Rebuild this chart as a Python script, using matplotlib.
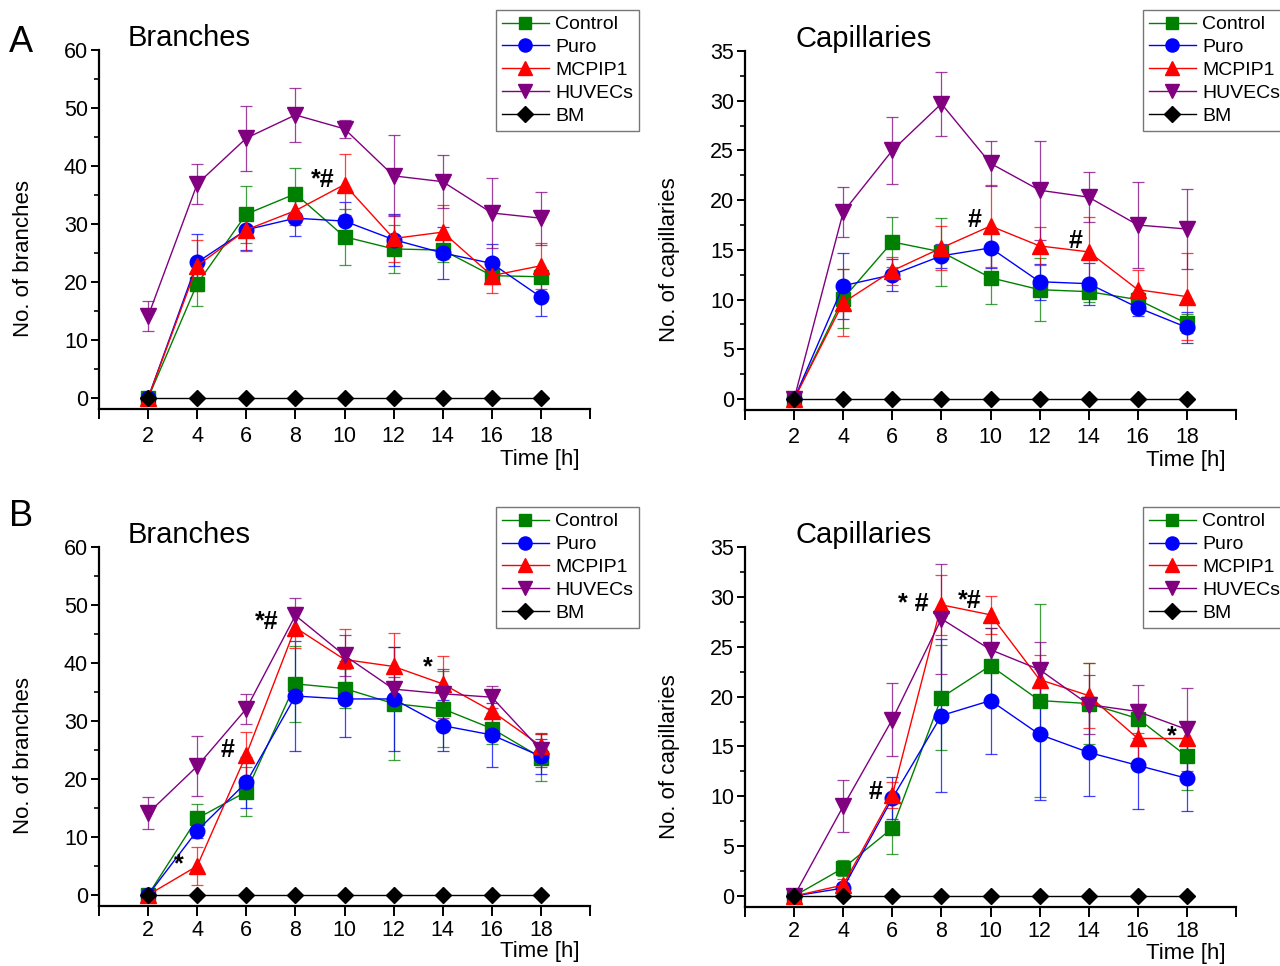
import matplotlib
matplotlib.use("Agg")
import matplotlib.pyplot as plt
import numpy as np

plt.rcParams['font.family'] = ['Liberation Sans', 'DejaVu Sans']

time_h = [2, 4, 6, 8, 10, 12, 14, 16, 18]
series_names = ["Control", "Puro", "MCPIP1", "HUVECs", "BM"]
bm = [0, 0, 0, 0, 0, 0, 0, 0, 0]

# Panel A - Branches
a_br_ctrl = [0, 19.7, 31.7, 35.2, 27.8, 25.7, 25.5, 21.1, 20.9]
a_br_ctrl_err = [0, 3.8, 4.9, 4.4, 4.8, 4.1, 2.0, 1.5, 1.0]
a_br_puro = [0, 23.4, 29.0, 31.0, 30.5, 27.3, 25.0, 23.2, 17.4]
a_br_puro_err = [0, 4.8, 3.5, 3.1, 3.3, 4.5, 4.5, 3.4, 3.2]
a_br_mcp = [0, 22.8, 29.0, 32.3, 36.8, 27.5, 28.6, 21.1, 22.8]
a_br_mcp_err = [0, 4.4, 3.7, 2.5, 5.2, 4.1, 4.7, 3.0, 4.0]
a_br_huv = [14.1, 36.9, 44.8, 48.8, 46.4, 38.3, 37.3, 31.9, 31.0]
a_br_huv_err = [2.6, 3.4, 5.6, 4.7, 1.6, 7.0, 4.6, 6.1, 4.6]

# Panel A - Capillaries
a_cap_ctrl = [0, 10.1, 15.8, 14.8, 12.2, 11.0, 10.8, 10.0, 7.6]
a_cap_ctrl_err = [0, 3.0, 2.5, 3.4, 2.6, 3.2, 1.0, 0.8, 1.0]
a_cap_puro = [0, 11.4, 12.5, 14.4, 15.2, 11.8, 11.6, 9.2, 7.2]
a_cap_puro_err = [0, 3.3, 1.6, 1.2, 2.0, 1.8, 2.1, 0.8, 1.6]
a_cap_mcp = [0, 9.7, 12.9, 15.2, 17.4, 15.4, 14.8, 11.0, 10.3]
a_cap_mcp_err = [0, 3.4, 1.4, 2.2, 4.1, 1.9, 3.5, 2.0, 4.4]
a_cap_huv = [0, 18.8, 25.0, 29.7, 23.7, 21.0, 20.3, 17.5, 17.1]
a_cap_huv_err = [0, 2.5, 3.4, 3.2, 2.3, 5.0, 2.5, 4.3, 4.0]

# Panel B - Branches
b_br_ctrl = [0, 13.2, 17.8, 36.4, 35.6, 33.0, 32.1, 28.7, 23.7]
b_br_ctrl_err = [0, 2.5, 4.2, 6.5, 3.4, 9.7, 6.5, 2.6, 4.0]
b_br_puro = [0, 11.1, 19.4, 34.3, 33.8, 33.8, 29.2, 27.6, 23.9]
b_br_puro_err = [0, 1.3, 4.4, 9.5, 6.6, 8.9, 4.4, 5.5, 3.0]
b_br_mcp = [0, 5.0, 24.2, 46.1, 40.6, 39.4, 36.4, 31.7, 25.7]
b_br_mcp_err = [0, 3.2, 3.9, 3.6, 5.2, 5.8, 4.8, 3.0, 2.0]
b_br_huv = [14.1, 22.2, 32.1, 48.2, 41.3, 35.5, 34.7, 34.1, 25.0]
b_br_huv_err = [2.8, 5.2, 2.6, 3.0, 3.5, 2.0, 4.2, 1.9, 3.0]

# Panel B - Capillaries
b_cap_ctrl = [0, 2.8, 6.8, 19.9, 23.1, 19.6, 19.3, 17.8, 14.0]
b_cap_ctrl_err = [0, 0.8, 2.6, 5.3, 3.8, 9.7, 4.1, 1.5, 3.4]
b_cap_puro = [0, 0.8, 9.8, 18.1, 19.6, 16.2, 14.4, 13.1, 11.8]
b_cap_puro_err = [0, 0.5, 2.1, 7.7, 5.4, 6.6, 4.4, 4.4, 3.3]
b_cap_mcp = [0, 1.1, 10.1, 29.2, 28.2, 21.7, 20.1, 15.8, 15.8]
b_cap_mcp_err = [0, 0.6, 1.3, 3.0, 1.9, 2.5, 3.3, 2.9, 1.5]
b_cap_huv = [0, 9.0, 17.7, 27.8, 24.7, 22.7, 19.2, 18.5, 16.7]
b_cap_huv_err = [0, 2.6, 3.7, 5.5, 2.2, 2.8, 3.0, 2.7, 4.2]

# Significance annotations: (x, y, text)
a_br_notes = [(9.1, 37.6, "*#")]
a_cap_notes = [(9.35, 18.0, "#"), (13.45, 15.9, "#")]
b_br_notes = [(3.25, 5.3, "*"), (5.25, 25.0, "#"), (6.85, 47.0, "*#"), (13.4, 39.2, "*")]
b_cap_notes = [(6.85, 29.3, "* #"), (9.15, 29.6, "*#"), (5.3, 10.4, "#"), (17.4, 16.0, "*")]

colors = {"Control": "#008000", "Puro": "#0000FF", "MCPIP1": "#FF0000",
          "HUVECs": "#800080", "BM": "#000000"}
markers = {"Control": ("s", 9.5), "Puro": ("o", 10.5), "MCPIP1": ("^", 11),
           "HUVECs": ("v", 11), "BM": ("D", 8.5)}

W, H = 1280, 966
fig = plt.figure(figsize=(W / 100, H / 100), dpi=100)


def make_axes(left_px, top_px, bottom_px, right_px):
    return fig.add_axes([left_px / W, 1 - bottom_px / H,
                         (right_px - left_px) / W, (bottom_px - top_px) / H])


def panel(ax, data, ymax, ymin, ystep, yminor, ylabel, title, title_x, notes,
          legend_xy, time_y, xpad):
    handles = []
    for name in series_names:
        vals, errs = data[name]
        m, ms = markers[name]
        c = colors[name]
        if errs is not None:
            ax.errorbar(time_h, vals, yerr=errs, fmt='none', ecolor=c,
                        elinewidth=0.9, capsize=4.5, capthick=0.9, alpha=0.75,
                        zorder=2)
        h, = ax.plot(time_h, vals, color=c, lw=1.0, marker=m, ms=ms,
                     markerfacecolor=c, markeredgecolor=c, zorder=3,
                     label=name)
        handles.append(h)
    ax.set_xlim(0, 20)
    ax.set_ylim(ymin, ymax)
    ax.spines['top'].set_visible(False)
    ax.spines['right'].set_visible(False)
    ax.spines['left'].set_linewidth(1.6)
    ax.spines['bottom'].set_linewidth(1.6)
    ax.set_xticks(list(range(0, 21, 2)))
    ax.set_xticklabels([""] + [str(t) for t in range(2, 19, 2)] + [""])
    ax.set_yticks(np.arange(0, ymax + 0.01, ystep))
    ax.set_yticks(np.arange(yminor, ymax, ystep), minor=True)
    ax.tick_params(axis='x', which='major', direction='out', length=7,
                   width=1.4, labelsize=15.5, pad=xpad)
    ax.tick_params(axis='y', which='major', direction='out', length=6,
                   width=1.4, labelsize=15.5, pad=2)
    ax.tick_params(axis='y', which='minor', direction='out', length=3.5,
                   width=1.2)
    ax.set_ylabel(ylabel, fontsize=16)
    ax.yaxis.set_label_coords(-0.133, 0.418)
    ax.text(0.978, time_y, "Time [h]", transform=ax.transAxes, ha='right',
            va='center', fontsize=16)
    ax.text(title_x, 1.033, title, transform=ax.transAxes, ha='left',
            va='center', fontsize=21)
    for (x, y, t) in notes:
        ax.text(x, y, t, ha='center', va='center', fontsize=18,
                fontweight='bold', zorder=5)
    leg = fig.legend(handles=handles, loc='upper left',
                     bbox_to_anchor=legend_xy, fontsize=14,
                     frameon=True, fancybox=False, handlelength=2.4,
                     handletextpad=0.35, borderpad=0.3, labelspacing=0.27,
                     borderaxespad=0, markerscale=0.9)
    leg.get_frame().set_edgecolor('#555555')
    leg.get_frame().set_linewidth(1.0)


ax1 = make_axes(99, 50, 409, 590)
panel(ax1, {"Control": (a_br_ctrl, a_br_ctrl_err), "Puro": (a_br_puro, a_br_puro_err),
            "MCPIP1": (a_br_mcp, a_br_mcp_err), "HUVECs": (a_br_huv, a_br_huv_err),
            "BM": (bm, None)},
      60, -1.9, 10, 5, "No. of branches", "Branches", 0.059, a_br_notes,
      (496 / W, 1 - 10 / H), -0.142, 5)

ax2 = make_axes(745, 51, 410, 1236)
panel(ax2, {"Control": (a_cap_ctrl, a_cap_ctrl_err), "Puro": (a_cap_puro, a_cap_puro_err),
            "MCPIP1": (a_cap_mcp, a_cap_mcp_err), "HUVECs": (a_cap_huv, a_cap_huv_err),
            "BM": (bm, None)},
      35, -1.1, 5, 2.5, "No. of capillaries", "Capillaries", 0.102, a_cap_notes,
      (1143 / W, 1 - 10 / H), -0.142, 5)

ax3 = make_axes(99, 547, 906, 590)
panel(ax3, {"Control": (b_br_ctrl, b_br_ctrl_err), "Puro": (b_br_puro, b_br_puro_err),
            "MCPIP1": (b_br_mcp, b_br_mcp_err), "HUVECs": (b_br_huv, b_br_huv_err),
            "BM": (bm, None)},
      60, -1.9, 10, 5, "No. of branches", "Branches", 0.059, b_br_notes,
      (496 / W, 1 - 507 / H), -0.128, 3)

ax4 = make_axes(745, 547, 907, 1236)
panel(ax4, {"Control": (b_cap_ctrl, b_cap_ctrl_err), "Puro": (b_cap_puro, b_cap_puro_err),
            "MCPIP1": (b_cap_mcp, b_cap_mcp_err), "HUVECs": (b_cap_huv, b_cap_huv_err),
            "BM": (bm, None)},
      35, -1.1, 5, 2.5, "No. of capillaries", "Capillaries", 0.102, b_cap_notes,
      (1143 / W, 1 - 507 / H), -0.128, 3)

fig.text(21 / W, 1 - 43 / H, "A", fontsize=26, ha='center', va='center')
fig.text(21 / W, 1 - 516 / H, "B", fontsize=26, ha='center', va='center')

fig.savefig("out.png", dpi=100)
